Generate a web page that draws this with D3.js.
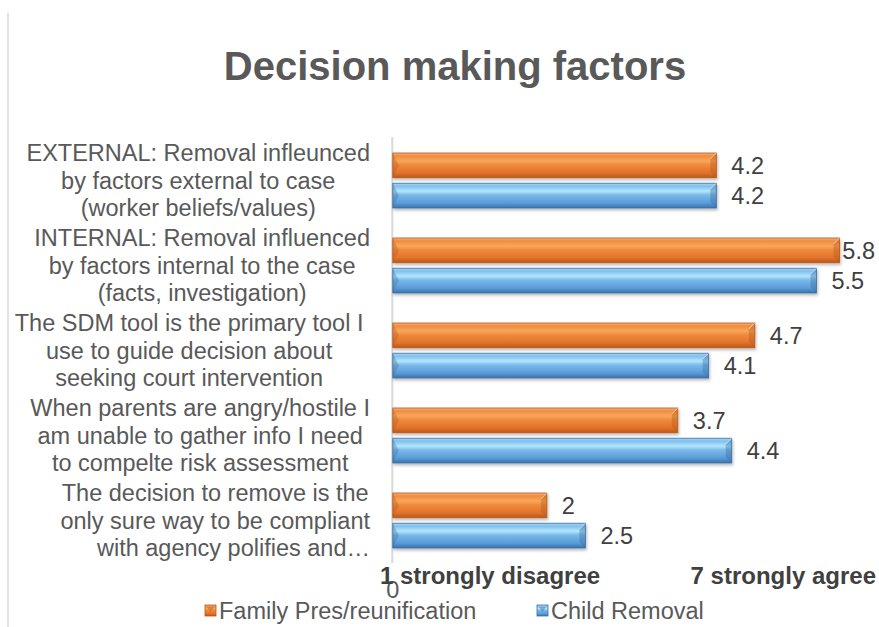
<!DOCTYPE html>
<html>
<head>
<meta charset="utf-8">
<script src="https://cdn.jsdelivr.net/npm/d3@7"></script>
<style>
  html, body { margin: 0; padding: 0; background: #ffffff; }
  svg { display: block; font-family: Arial, "Liberation Sans", sans-serif; }
</style>
</head>
<body>
<svg id="chart" width="879" height="627"></svg>
<script>
// Survey items (top to bottom), each wrapped as it is displayed
const categories = [
  "EXTERNAL", "INTERNAL", "SDM tool", "Hostile parents", "Compliance"
];
const categoryLines = [
  ["EXTERNAL: Removal infleunced", "by factors external to case", "(worker beliefs/values)"],
  ["INTERNAL: Removal influenced", "by factors internal to the case", "(facts, investigation)"],
  ["The SDM tool is the primary tool I ", "use to guide decision about ", "seeking court intervention "],
  ["When parents are angry/hostile I", "am unable to gather info I need", "to compelte risk assessment"],
  ["The decision to remove is the", "only sure way to be compliant", "with agency polifies and\u2026"]
];
const seriesNames = ["Family Pres/reunification", "Child Removal"];
const familyPres = [4.2, 5.8, 4.7, 3.7, 2];
const childRemoval = [4.2, 5.5, 4.1, 4.4, 2.5];
const xDomain = [0, 6];
const tickLabels = ["0"];
const scaleEndLabels = ["1 strongly disagree", "7 strongly agree"];

const W = 879;
const svg = d3.select("#chart");
const defs = svg.append("defs");

// Bevelled bar shading
const palettes = {
  orange: [["0%", "#f6b27a"], ["12%", "#f08c3e"], ["32%", "#f8a75c"], ["48%", "#f08a3c"], ["80%", "#e2722a"], ["100%", "#b8581a"]],
  blue:   [["0%", "#a9d6f4"], ["12%", "#7fc0ee"], ["32%", "#b3e6fd"], ["48%", "#79b9ea"], ["80%", "#5a9bd8"], ["100%", "#3a72ae"]]
};
Object.entries(palettes).forEach(([key, stops]) => {
  const g = defs.append("linearGradient").attr("id", "grad-" + key)
    .attr("x1", 0).attr("y1", 0).attr("x2", 0).attr("y2", 1);
  stops.forEach(([o, c]) => g.append("stop").attr("offset", o).attr("stop-color", c));
});
const shadow = defs.append("filter").attr("id", "barShadow")
  .attr("x", "-5%").attr("y", "-30%").attr("width", "110%").attr("height", "170%");
shadow.append("feDropShadow").attr("dx", 1).attr("dy", 2).attr("stdDeviation", 1.4)
  .attr("flood-color", "#000").attr("flood-opacity", 0.28);

const seriesColors = ["orange", "blue"];
const edgeColors = ["#b65a1c", "#3d6f9f"];

// Frame line on the left
svg.append("line").attr("x1", 8).attr("x2", 8).attr("y1", 13).attr("y2", 627)
  .attr("stroke", "#d9d9d9").attr("stroke-width", 1.5);

// Title
svg.append("text").attr("x", 455).attr("y", 80).attr("text-anchor", "middle")
  .attr("font-size", 40).attr("font-weight", "bold").attr("fill", "#595959")
  .text("Decision making factors");

// Scales
const x = d3.scaleLinear().domain(xDomain).range([392.8, 855]);
const y0 = d3.scaleBand().domain(categories).range([138, 563]).padding(0);
const y1 = d3.scaleBand().domain(seriesNames).range([15, 70]).paddingInner(0.18);

// Category axis line
svg.append("line").attr("x1", x(0) - 0.5).attr("x2", x(0) - 0.5)
  .attr("y1", y0.range()[0] - 1).attr("y2", y0.range()[1])
  .attr("stroke", "#d9d9d9").attr("stroke-width", 2);

const rows = categories.map((c, i) => ({
  cat: c, values: [familyPres[i], childRemoval[i]]
}));

const groups = svg.append("g").selectAll("g.row").data(rows).join("g")
  .attr("class", "row").attr("transform", d => `translate(0,${y0(d.cat)})`);

const bars = groups.selectAll("g.bar")
  .data(d => d.values.map((v, s) => ({ v, s })))
  .join("g").attr("class", "bar");

bars.each(function (d) {
  const g = d3.select(this);
  const x0 = x(0), x1 = x(d.v);
  const top = y1(seriesNames[d.s]), h = y1.bandwidth();
  const bot = top + h;
  g.append("rect").attr("x", x0).attr("y", top).attr("width", x1 - x0).attr("height", h)
    .attr("fill", `url(#grad-${seriesColors[d.s]})`)
    .attr("stroke", edgeColors[d.s]).attr("stroke-width", 0.8)
    .attr("filter", "url(#barShadow)");
  // bevelled ends
  const b = 6;
  g.append("path")
    .attr("d", `M${x0},${top}L${x0 + b},${top + h / 2}L${x0},${bot}Z`)
    .attr("fill", edgeColors[d.s]).attr("opacity", 0.35);
  g.append("path")
    .attr("d", `M${x1},${top}L${x1},${bot}L${x1 - b},${bot - b}L${x1 - b},${top + b}Z`)
    .attr("fill", edgeColors[d.s]).attr("opacity", 0.4);
  g.append("path")
    .attr("d", `M${x1},${top}L${x1 - b},${top + b}`)
    .attr("stroke", "#ffffff").attr("stroke-opacity", 0.5).attr("stroke-width", 1);
  // value label, kept inside the chart's right edge
  const lbl = g.append("text").attr("y", top + h / 2)
    .attr("dy", "0.36em").attr("font-size", 23.5).attr("fill", "#404040")
    .text(d.v);
  const lw = lbl.node().getComputedTextLength();
  lbl.attr("x", Math.min(x1 + 15, W - 4 - lw));
});

// Category labels: lines centred on each other, block right-aligned to the axis
const labelRight = 370;
const lineH = 27.5;
rows.forEach((r, i) => {
  const cy = y0(r.cat) + y0.bandwidth() / 2;
  const lines = categoryLines[i];
  const g = svg.append("g").attr("class", "cat-label");
  const texts = lines.map((ln, k) => g.append("text")
    .attr("y", cy + (k - (lines.length - 1) / 2) * lineH)
    .attr("dy", "0.36em").attr("font-size", 23.5).attr("fill", "#595959")
    .style("white-space", "pre").text(ln));
  const maxW = d3.max(texts, t => t.node().getComputedTextLength());
  const centre = labelRight - maxW / 2;
  texts.forEach((t, k) => {
    if (lines[k].endsWith("\u2026")) t.attr("x", labelRight).attr("text-anchor", "end");
    else t.attr("x", centre).attr("text-anchor", "middle");
  });
});

// Value axis: only the origin tick is shown
svg.append("g").selectAll("text").data(tickLabels).join("text")
  .attr("x", d => x(+d)).attr("y", 598).attr("text-anchor", "middle")
  .attr("font-size", 23.5).attr("fill", "#595959").text(d => d);

// Scale-end annotations
svg.append("text").attr("x", 380).attr("y", 584).attr("font-size", 24)
  .attr("font-weight", "bold").attr("fill", "#404040").text(scaleEndLabels[0]);
svg.append("text").attr("x", 876).attr("y", 584).attr("text-anchor", "end").attr("font-size", 24)
  .attr("font-weight", "bold").attr("fill", "#404040").text(scaleEndLabels[1]);

// Legend
const legendItems = [
  { name: seriesNames[0], key: "orange", x: 205 },
  { name: seriesNames[1], key: "blue", x: 537 }
];
const lg = svg.append("g").selectAll("g").data(legendItems).join("g")
  .attr("transform", d => `translate(${d.x},605)`);
lg.append("rect").attr("width", 11).attr("height", 11)
  .attr("fill", d => `url(#grad-${d.key})`)
  .attr("stroke", (d, i) => edgeColors[i]).attr("stroke-width", 0.8);
lg.append("path").attr("d", "M2,2L5.5,7L9,2Z").attr("fill", (d, i) => edgeColors[i]).attr("opacity", 0.45);
lg.append("text").attr("x", 14).attr("y", 5.5).attr("dy", "0.36em")
  .attr("font-size", 23.5).attr("fill", "#595959").text(d => d.name);
</script>
</body>
</html>
